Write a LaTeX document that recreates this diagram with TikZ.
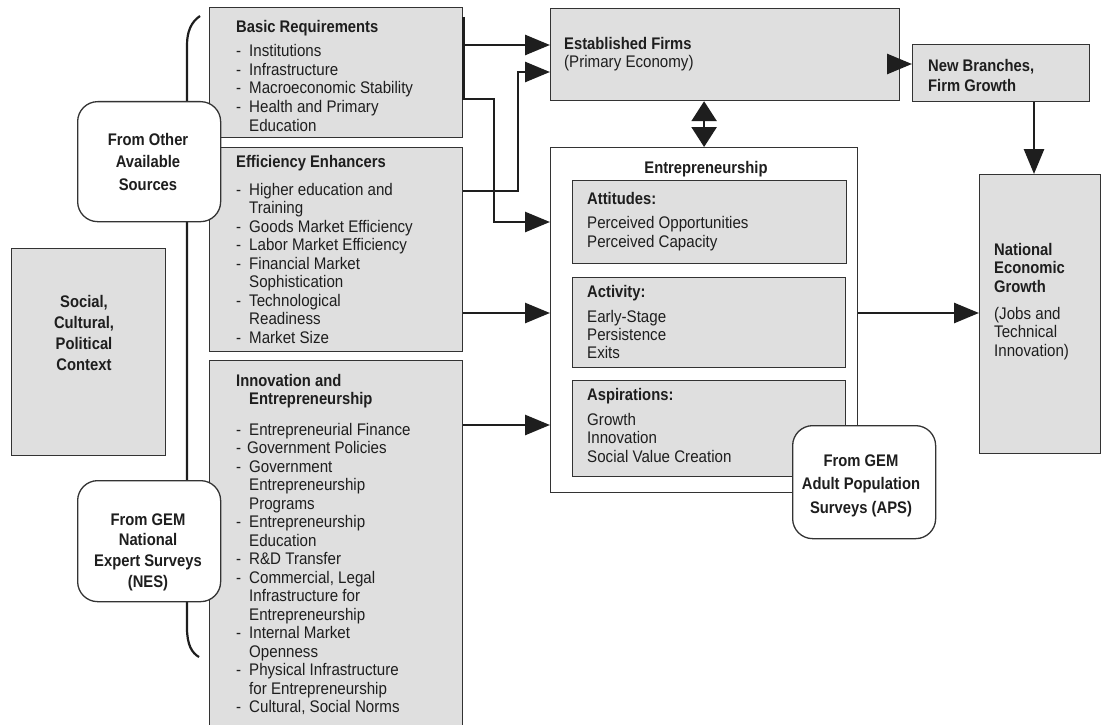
\documentclass[tikz,border=0pt]{standalone}
\usepackage{fontspec}
\setmainfont{Liberation Sans}[FakeStretch=0.9,BoldFeatures={FakeStretch=0.88}]
\usetikzlibrary{arrows.meta,calc}
\definecolor{boxfill}{HTML}{DFDFDF}
\definecolor{edge}{HTML}{333333}
\definecolor{ink}{HTML}{1E1E1E}
\newcommand\dl{\makebox[13pt][l]{-}}
\newcommand\cl{\hspace*{13pt}}
\begin{document}
\begin{tikzpicture}[x=1pt,y=-1pt,
  gbox/.style={draw=edge,line width=1.2pt,fill=boxfill,anchor=north west,inner sep=0pt},
  wbox/.style={draw=edge,line width=1.2pt,fill=white,anchor=north west,inner sep=0pt},
  rbox/.style={draw=edge,line width=1.3pt,fill=white,rounded corners=20pt,anchor=north west,inner sep=0pt},
  txt/.style={anchor=base west,inner sep=0pt,text=ink,font=\fontsize{16.8}{18.5}\selectfont},
  ctxt/.style={anchor=base,inner sep=0pt,text=ink,font=\fontsize{16.8}{22.5}\selectfont\bfseries},
  conn/.style={draw=ink,line width=2.7pt},
  arr/.style={conn,-{Triangle[length=25pt,width=20pt]}},
]
\useasboundingbox (0,0) rectangle (1101,725);

% brace
\draw[draw=ink,line width=2.2pt] (200,16) .. controls (191,22) and (187,32) .. (187,45) -- (187,628) .. controls (187,645) and (192,653) .. (199,657);

% boxes
\node[gbox,minimum width=253pt,minimum height=130pt] (basic) at (209,7) {};
\node[gbox,minimum width=253pt,minimum height=204pt] (eff) at (209,147) {};
\node[gbox,minimum width=253pt,minimum height=380pt] (innov) at (209,360) {};
\node[rbox,minimum width=143pt,minimum height=120pt] (other) at (77,101) {};
\node[gbox,minimum width=154pt,minimum height=207pt] (social) at (11,248) {};
\node[rbox,minimum width=143pt,minimum height=121pt] (nes) at (77,480) {};
\node[gbox,minimum width=349pt,minimum height=92pt] (estab) at (550,8) {};
\node[wbox,minimum width=307pt,minimum height=345pt] (entre) at (550,147) {};
\node[gbox,minimum width=274pt,minimum height=83pt] (att) at (572,180) {};
\node[gbox,minimum width=273pt,minimum height=90pt] (act) at (572,277) {};
\node[gbox,minimum width=273pt,minimum height=96pt] (asp) at (572,380) {};
\node[rbox,minimum width=143pt,minimum height=113pt] (aps) at (792,425) {};
\node[gbox,minimum width=177pt,minimum height=57pt] (newb) at (912,44) {};
\node[gbox,minimum width=121pt,minimum height=279pt] (neg) at (979,174) {};

% texts
\node[txt] (basicT) at (236,33) {\textbf{Basic Requirements}};
\node[txt] (basicL) at (236,57) {\parbox[t]{220pt}{\raggedright
  \dl Institutions\\ \dl Infrastructure\\ \dl Macroeconomic Stability\\ \dl Health and Primary\\ \cl Education}};

\node[txt] (effT) at (236,167) {\textbf{Efficiency Enhancers}};
\node[txt] (effL) at (236,195) {\parbox[t]{220pt}{\raggedright
  \dl Higher education and\\ \cl Training\\ \dl Goods Market Efficiency\\ \dl Labor Market Efficiency\\ \dl Financial Market\\ \cl Sophistication\\ \dl Technological\\ \cl Readiness\\ \dl Market Size}};

\node[txt] (innovT) at (236,386) {\parbox[t]{220pt}{\raggedright\bfseries
  Innovation and\\ \cl Entrepreneurship}};
\node[txt] (innovL) at (236,435) {\parbox[t]{220pt}{\raggedright
  \dl Entrepreneurial Finance\\ \makebox[11pt][l]{-}Government Policies\\ \dl Government\\ \cl Entrepreneurship\\ \cl Programs\\ \dl Entrepreneurship\\ \cl Education\\ \dl R\&D Transfer\\ \dl Commercial, Legal\\ \cl Infrastructure for\\ \cl Entrepreneurship\\ \dl Internal Market\\ \cl Openness\\ \dl Physical Infrastructure\\ \cl for Entrepreneurship\\ \dl Cultural, Social Norms}};

\node[ctxt] (otherT) at (148,145) {\parbox[t]{130pt}{\centering From Other\\ Available\\ Sources}};
\node[ctxt,font=\fontsize{16.8}{21}\selectfont\bfseries] (socialT) at (84,307) {\parbox[t]{140pt}{\centering Social,\\ Cultural,\\ Political\\ Context}};
\node[ctxt,font=\fontsize{16.8}{20.7}\selectfont\bfseries] (nesT) at (148,525) {\parbox[t]{130pt}{\centering From GEM\\ National\\ Expert Surveys\\ (NES)}};
\node[ctxt,font=\fontsize{16.8}{23.5}\selectfont\bfseries] (apsT) at (861,466) {\parbox[t]{140pt}{\centering From GEM\\ Adult Population\\ Surveys (APS)}};

\node[txt,font=\fontsize{16.8}{18}\selectfont] (estabT) at (564,50) {\parbox[t]{300pt}{\raggedright\textbf{Established Firms}\\ (Primary Economy)}};
\node[txt,anchor=base] (entreT) at (706,173) {\textbf{Entrepreneurship}};

\node[txt] (attT) at (587,204) {\textbf{Attitudes:}};
\node[txt,font=\fontsize{16.8}{19}\selectfont] (attL) at (587,228) {\parbox[t]{250pt}{\raggedright Perceived Opportunities\\ Perceived Capacity}};
\node[txt] (actT) at (587,297) {\textbf{Activity:}};
\node[txt,font=\fontsize{16.8}{18}\selectfont] (actL) at (587,322) {\parbox[t]{250pt}{\raggedright Early-Stage\\ Persistence\\ Exits}};
\node[txt] (aspT) at (587,400) {\textbf{Aspirations:}};
\node[txt] (aspL) at (587,425) {\parbox[t]{250pt}{\raggedright Growth\\ Innovation\\ Social Value Creation}};

\node[txt,font=\fontsize{16.8}{20}\selectfont\bfseries] (newbT) at (928,72) {\parbox[t]{150pt}{\raggedright New Branches,\\ Firm Growth}};
\node[txt,font=\fontsize{16.8}{18.5}\selectfont\bfseries] (negT) at (994,255) {\parbox[t]{100pt}{\raggedright National\\ Economic\\ Growth}};
\node[txt] (negL) at (994,319) {\parbox[t]{100pt}{\raggedright (Jobs and\\ Technical\\ Innovation)}};

% connectors
\draw[arr] (basic.east |- 0,17) -- (basic.east |- 0,99) -- (494,99) |- (entre.west |- 0,222);
\draw[arr] (basic.east |- 0,45) -- (estab.west |- 0,45);
\draw[arr] (eff.east |- 0,191) -- (518,191) |- (estab.west |- 0,72);
\draw[arr] (eff.east |- 0,313) -- (entre.west |- 0,313);
\draw[arr] (innov.east |- 0,425) -- (entre.west |- 0,425);
\draw[arr] (entre.east |- 0,313) -- (neg.west |- 0,313);
\draw[arr] (estab.east |- 0,64) -- (newb.west |- 0,64);
\draw[arr] (newb.south -| 1034,0) -- (neg.north -| 1034,0);
\draw[conn,{Triangle[length=20pt,width=25pt]}-{Triangle[length=20pt,width=25pt]}] (estab.south -| entre.north) -- (entre.north);
\end{tikzpicture}
\end{document}
